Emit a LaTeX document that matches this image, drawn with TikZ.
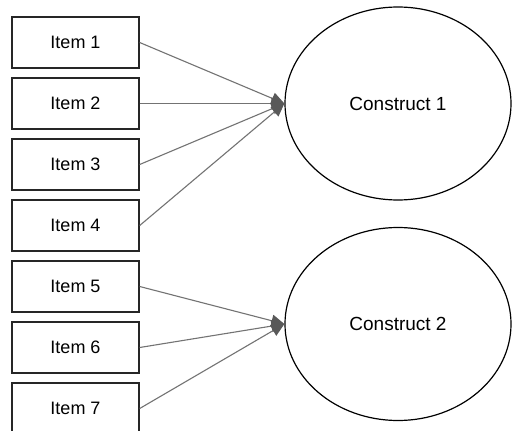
\documentclass[tikz,border=0pt]{standalone}
\usepackage{fontspec}
\setmainfont{Liberation Sans}
\usetikzlibrary{arrows.meta,shapes.geometric}
\begin{document}
\begin{tikzpicture}[x=1pt,y=-1pt,
  itembox/.style={draw=black!85, line width=1.4pt, minimum width=127pt, minimum height=51pt, inner sep=0pt, font=\fontsize{18}{20}\selectfont},
  construct/.style={ellipse, draw=black, line width=1.2pt, minimum width=226pt, minimum height=193pt, inner sep=0pt, font=\fontsize{19}{22}\selectfont},
  link/.style={draw=black!55, line width=1.1pt, -{Triangle[length=13pt,width=12pt,fill=black!65,color=black!65]}}]
\clip (0,0) rectangle (512,431);
\fill[white] (0,0) rectangle (512,431);
\node[itembox] (i1) at (75.5,42.5) {Item 1};
\node[itembox] (i2) at (75.5,103.5) {Item 2};
\node[itembox] (i3) at (75.5,164.5) {Item 3};
\node[itembox] (i4) at (75.5,225.5) {Item 4};
\node[itembox] (i5) at (75.5,286.5) {Item 5};
\node[itembox] (i6) at (75.5,347.5) {Item 6};
\node[itembox] (i7) at (75.5,408.5) {Item 7};
\node[construct] (c1) at (398,103.5) {Construct 1};
\node[construct] (c2) at (398,324) {Construct 2};
\foreach \i in {1,2,3,4} \draw[link] (i\i.east) -- (c1.west);
\foreach \i in {5,6,7} \draw[link] (i\i.east) -- (c2.west);
\end{tikzpicture}
\end{document}
